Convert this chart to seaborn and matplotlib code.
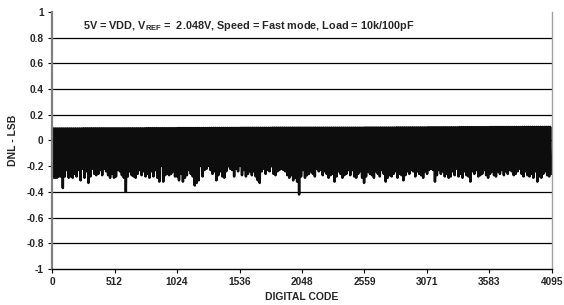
import matplotlib
matplotlib.use("Agg")
import matplotlib.pyplot as plt
import pandas as pd
import seaborn as sns

# DNL values: lower edge of the noise band,
# one value per ~16 codes (about two pixel columns)
dnl_low = [
    -0.29, -0.29, -0.29, -0.28, -0.28,
    -0.37, -0.28, -0.23, -0.29, -0.28, -0.29, -0.26, -0.28, -0.23, -0.31,
    -0.22, -0.29, -0.24, -0.33, -0.28, -0.22, -0.26, -0.27, -0.26, -0.23,
    -0.27, -0.22, -0.24, -0.27, -0.29, -0.26, -0.29, -0.28, -0.23, -0.24,
    -0.27, -0.29, -0.40, -0.28, -0.24, -0.27, -0.28, -0.29, -0.26, -0.23,
    -0.27, -0.24, -0.28, -0.26, -0.29,
    -0.24, -0.28, -0.23, -0.29, -0.32, -0.19, -0.32, -0.27, -0.26, -0.27,
    -0.26, -0.24, -0.28, -0.28, -0.31, -0.26, -0.32, -0.29, -0.27, -0.23,
    -0.26, -0.28, -0.35, -0.33, -0.31, -0.19, -0.28, -0.23, -0.22, -0.19,
    -0.23, -0.26, -0.24, -0.31, -0.27, -0.24, -0.28, -0.29, -0.24, -0.20,
    -0.22, -0.23, -0.28, -0.22, -0.24, -0.19, -0.27, -0.23, -0.28, -0.26,
    -0.24,
    -0.27, -0.24, -0.28, -0.31, -0.33, -0.24, -0.22, -0.26, -0.23, -0.24,
    -0.20, -0.26, -0.27, -0.24, -0.23, -0.22, -0.23, -0.24, -0.27, -0.29,
    -0.27, -0.31, -0.29, -0.32, -0.42, -0.28, -0.23, -0.29, -0.27, -0.26,
    -0.24, -0.26, -0.28, -0.22, -0.24, -0.23, -0.27, -0.24, -0.26, -0.29,
    -0.27, -0.26, -0.32, -0.28, -0.24, -0.26, -0.29, -0.27, -0.26, -0.23,
    -0.27,
    -0.23, -0.28, -0.29, -0.26, -0.24, -0.29, -0.33, -0.28, -0.24, -0.26,
    -0.27, -0.29, -0.24, -0.26, -0.28, -0.23, -0.26, -0.32, -0.29, -0.27,
    -0.28, -0.26, -0.24, -0.29, -0.26, -0.27, -0.31, -0.27, -0.24, -0.26,
    -0.23, -0.24, -0.28, -0.24, -0.26, -0.27, -0.29, -0.24, -0.26, -0.23,
    -0.22, -0.23, -0.32, -0.27, -0.23, -0.26, -0.24, -0.28, -0.26, -0.29,
    -0.28,
    -0.24, -0.27, -0.22, -0.28, -0.26, -0.29, -0.24, -0.27, -0.28, -0.32,
    -0.24, -0.26, -0.23, -0.28, -0.27, -0.26, -0.23, -0.27, -0.29, -0.26,
    -0.24, -0.27, -0.28, -0.24, -0.26, -0.23, -0.27, -0.24, -0.26, -0.23,
    -0.24, -0.27, -0.26, -0.24, -0.22, -0.26, -0.28, -0.24, -0.27, -0.28,
    -0.26, -0.29, -0.24, -0.32, -0.28, -0.29, -0.26, -0.24, -0.27, -0.28,
    -0.26,
]

# upper edge of the band, one value per 256 codes
dnl_high = [0.094, 0.095, 0.095, 0.096, 0.097, 0.098, 0.099, 0.100,
            0.100, 0.100, 0.101, 0.102, 0.103, 0.104, 0.105, 0.106]

x_ticks = [0, 512, 1024, 1536, 2048, 2559, 3071, 3583, 4095]
y_ticks = [1, 0.8, 0.6, 0.4, 0.2, 0, -0.2, -0.4, -0.6, -0.8, -1]
y_labels = ["1", "0.8", "0.6", "0.4", "0.2", "0", "-0.2", "-0.4", "-0.6", "-0.8", "-1"]

N_CODES = 4096

# interleave the upper and lower edge so the line sweeps the band
step = N_CODES / len(dnl_low)
rows = []
for i, low in enumerate(dnl_low):
    high = dnl_high[int(i * len(dnl_high) / len(dnl_low))]
    rows.append((i * step, high))
    rows.append(((i + 0.5) * step, low))
df = pd.DataFrame(rows, columns=["code", "dnl"])

sns.set_style("white")
plt.rcParams["font.family"] = ["Liberation Sans", "DejaVu Sans"]
plt.rcParams["mathtext.fontset"] = "custom"
plt.rcParams["mathtext.rm"] = "Liberation Sans:bold"
plt.rcParams["mathtext.bf"] = "Liberation Sans:bold"

fig = plt.figure(figsize=(5.64, 3.05), dpi=100)
ax = fig.add_axes([0.0922, 0.118, 0.8865, 0.8427])

for y in y_ticks[1:-1]:
    ax.axhline(y, color="black", lw=0.9, zorder=1)

sns.lineplot(data=df, x="code", y="dnl", estimator=None, sort=False,
             color="#0d0d0d", lw=1.8, ax=ax, zorder=2)

ax.set_xlim(0, 4095)
ax.set_ylim(-1, 1)
ax.set_xticks(x_ticks)
ax.set_xticklabels([str(t) for t in x_ticks], fontsize=7.3, fontweight="bold")
ax.set_yticks(y_ticks)
ax.set_yticklabels(y_labels, fontsize=7.3, fontweight="bold")
ax.tick_params(axis="both", direction="out", length=3, width=0.8,
               color="black", pad=3, bottom=True, left=True)

ax.set_xlabel("DIGITAL CODE", fontsize=7.5, fontweight="bold", labelpad=3)
ax.set_ylabel("DNL - LSB", fontsize=7.5, fontweight="bold", labelpad=6)

ax.spines["top"].set_visible(False)
ax.spines["left"].set_color("#808080")
ax.spines["left"].set_linewidth(1.6)
ax.spines["right"].set_color("#a0a0a0")
ax.spines["right"].set_linewidth(1.0)
ax.spines["bottom"].set_color("black")
ax.spines["bottom"].set_linewidth(1.0)

ax.text(250, 0.89,
        r"5V = VDD, V$_{\mathrm{REF}}$ =  2.048V, Speed = Fast mode, Load = 10k/100pF",
        fontsize=7.8, fontweight="bold", va="center", ha="left", zorder=3)

fig.savefig("out.png", dpi=100, facecolor="white")
